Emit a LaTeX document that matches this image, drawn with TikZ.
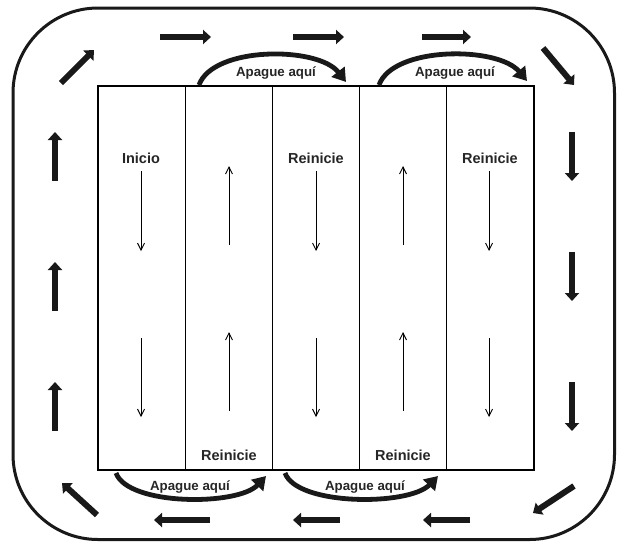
\documentclass[tikz,border=0pt]{standalone}
\usepackage{fontspec}
\setmainfont{Liberation Sans}
\usetikzlibrary{arrows.meta}
\begin{document}
\begin{tikzpicture}[x=1pt,y=-1pt,
  col/.style={draw,line width=1.1pt,minimum width=87.2pt,minimum height=384pt,inner sep=0pt,outer sep=0pt,anchor=north west},
  lab/.style={font=\bfseries\fontsize{14.5}{16}\selectfont,text=black!85},
  offlab/.style={font=\bfseries\fontsize{13.3}{15}\selectfont,text=black!85},
  thin/.style={line width=0.9pt,-{Straight Barb[length=7pt,width=7pt,line width=0.9pt]}},
  fat/.style={line width=6pt,-{Triangle[length=8pt,width=14pt]},black!90},
  arc/.style={line width=4.8pt,-{Triangle[length=13pt,width=16pt]},black!90}]
\useasboundingbox (0,0) rectangle (618,542);
\draw[line width=3pt,rounded corners=85pt,black!90] (13,8) rectangle (614.5,539.5);
% columns
\node[col] (c1) at (98,86) {};
\node[col] (c2) at (185.2,86) {};
\node[col] (c3) at (272.4,86) {};
\node[col] (c4) at (359.6,86) {};
\node[col] (c5) at (446.8,86) {};
% labels
\node[lab] (l1) at (141,158) {Inicio};
\node[lab] (l3) at (316,158) {Reinicie};
\node[lab] (l5) at (490,158) {Reinicie};
\node[lab] (l2) at (229,455) {Reinicie};
\node[lab] (l4) at (403,455) {Reinicie};
% thin arrows
\coordinate (a1) at (141,171); \coordinate (b1) at (141,251);
\coordinate (a2) at (141,338); \coordinate (b2) at (141,417);
\draw[thin] (a1) -- (b1); \draw[thin] (a2) -- (b2);
\coordinate (a3) at (229,245); \coordinate (b3) at (229,166);
\coordinate (a4) at (229,411); \coordinate (b4) at (229,332);
\draw[thin] (a3) -- (b3); \draw[thin] (a4) -- (b4);
\coordinate (a5) at (316,171); \coordinate (b5) at (316,251);
\coordinate (a6) at (316,338); \coordinate (b6) at (316,417);
\draw[thin] (a5) -- (b5); \draw[thin] (a6) -- (b6);
\coordinate (a7) at (403,245); \coordinate (b7) at (403,166);
\coordinate (a8) at (403,411); \coordinate (b8) at (403,332);
\draw[thin] (a7) -- (b7); \draw[thin] (a8) -- (b8);
\coordinate (a9) at (489,171); \coordinate (b9) at (489,251);
\coordinate (a10) at (489,338); \coordinate (b10) at (489,417);
\draw[thin] (a9) -- (b9); \draw[thin] (a10) -- (b10);
% outer circulation arrows
\draw[fat] (55,181) -- (55,132);
\draw[fat] (55,311) -- (55,262);
\draw[fat] (55,431) -- (55,382);
\draw[fat] (572,132) -- (572,181);
\draw[fat] (572,252) -- (572,301);
\draw[fat] (572,382) -- (572,431);
\draw[fat] (160,37) -- (211,37);
\draw[fat] (293,37) -- (344,37);
\draw[fat] (422,37) -- (471,37);
\draw[fat] (210,520) -- (154,520);
\draw[fat] (340,520) -- (293,520);
\draw[fat] (470,520) -- (423,520);
\draw[fat] (61,83) -- (94,50);
\draw[fat] (543,48) -- (574,85);
\draw[fat] (574,486) -- (533,513);
\draw[fat] (97,515) -- (62,483);
% switch-off arcs
\draw[arc] (199,85) .. controls (213,46) and (318,46) .. (346,82);
\draw[arc] (379,85) .. controls (393,46) and (498,46) .. (527,81);
\draw[arc] (116,473) .. controls (128,506) and (238,506) .. (266,476);
\draw[arc] (285,473) .. controls (297,506) and (409,506) .. (438,476);
\node[offlab] (o1) at (276,73) {Apague aquí};
\node[offlab] (o2) at (455,73) {Apague aquí};
\node[offlab] (o3) at (190,487) {Apague aquí};
\node[offlab] (o4) at (365,487) {Apague aquí};
\end{tikzpicture}
\end{document}
